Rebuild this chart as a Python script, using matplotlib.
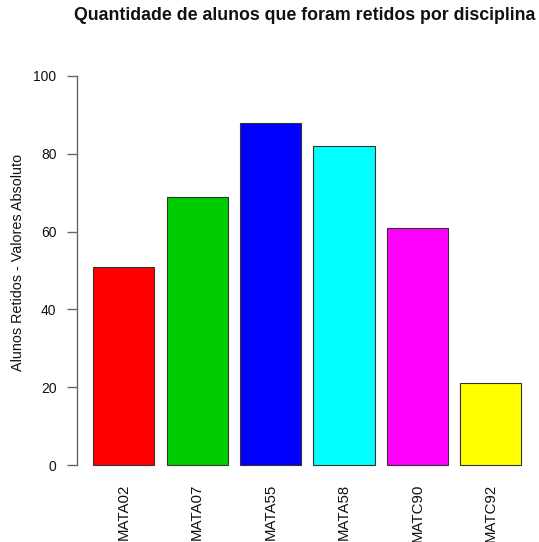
import matplotlib
matplotlib.use("Agg")
import matplotlib.pyplot as plt
import numpy as np

categories = ["MATA02", "MATA07", "MATA55", "MATA58", "MATC90", "MATC92"]
values = [51, 69, 88, 82, 61, 21]
colors = ["#FF0000", "#00CD00", "#0000FF", "#00FFFF", "#FF00FF", "#FFFF00"]
yticks = [0, 20, 40, 60, 80, 100]

plt.rcParams['font.family'] = ['Liberation Sans', 'DejaVu Sans']

W, H = 539, 542
fig = plt.figure(figsize=(W / 100, H / 100), dpi=100)
left, right, top, bottom = 76, 538.5, 60.4, 480.6
ax = fig.add_axes([left / W, 1 - bottom / H, (right - left) / W, (bottom - top) / H])

x = 0.7 + 1.2 * np.arange(len(categories))
ax.bar(x, values, width=1.0, color=colors, edgecolor="#333333", linewidth=0.8)
ax.set_xlim(-0.08, 7.48)
ax.set_ylim(-4, 104)

for s in ["top", "right", "bottom"]:
    ax.spines[s].set_visible(False)
ax.spines["left"].set_bounds(0, 100)
ax.spines["left"].set_color("#666666")
ax.spines["left"].set_linewidth(1.0)
ax.spines["left"].set_position(("data", -0.06))

ax.set_yticks(yticks)
ax.set_yticklabels([str(t) for t in yticks], fontsize=10, color="#111111")
ax.tick_params(axis="y", length=7, width=1.0, color="#666666", pad=8)
ax.set_xticks(x)
ax.set_xticklabels(categories, rotation=90, fontsize=10.8, color="#111111", va="top")
ax.tick_params(axis="x", length=0, pad=2)

fig.text(18 / W, 1 - 262 / H, "Alunos Retidos - Valores Absoluto", rotation=90,
         ha="center", va="center", fontsize=10.4, color="#111111")

fig.text(305 / W, 1 - 16 / H, "Quantidade de alunos que foram retidos por disciplina",
         ha="center", va="center", fontsize=12.8, fontweight="bold", color="#111111")

fig.savefig("out.png", dpi=100)
